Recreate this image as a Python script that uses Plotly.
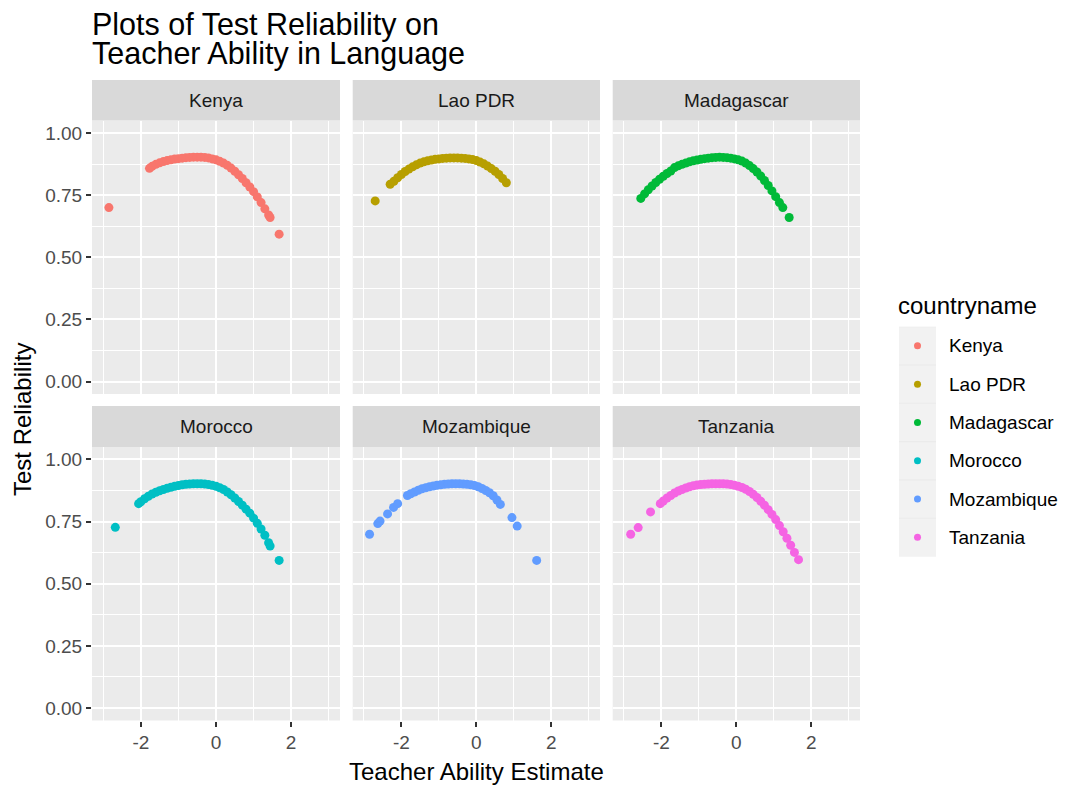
import plotly.graph_objects as go

W, H = 1066, 787
FONT = "Liberation Sans, Arial, sans-serif"

countries = ["Kenya", "Lao PDR", "Madagascar", "Morocco", "Mozambique", "Tanzania"]
colors = ["#F8766D", "#B79F00", "#00BA38", "#00BFC4", "#619CFF", "#F564E3"]

kenya_x = [-2.85, -1.77, -1.70, -1.60, -1.50, -1.40, -1.30, -1.20, -1.10, -1.00, -0.90, -0.80,
           -0.70, -0.60, -0.50, -0.40, -0.30, -0.20, -0.10, 0.00, 0.10, 0.20, 0.30, 0.40, 0.50,
           0.60, 0.70, 0.80, 0.90, 1.00, 1.10, 1.20, 1.30, 1.40, 1.44, 1.68]
kenya_y = [0.700, 0.858, 0.866, 0.874, 0.880, 0.885, 0.889, 0.892, 0.895, 0.897, 0.899, 0.901,
           0.902, 0.903, 0.903, 0.903, 0.902, 0.900, 0.896, 0.892, 0.886, 0.879, 0.870, 0.859, 0.846,
           0.832, 0.817, 0.800, 0.783, 0.764, 0.743, 0.720, 0.695, 0.670, 0.660, 0.593]

lao_x = [-2.70, -2.30, -2.20, -2.10, -2.00, -1.90, -1.80, -1.70, -1.60, -1.50, -1.40, -1.30,
         -1.20, -1.10, -1.00, -0.90, -0.80, -0.70, -0.60, -0.50, -0.40, -0.30, -0.20, -0.10,
         0.00, 0.10, 0.20, 0.30, 0.40, 0.50, 0.60, 0.70, 0.80]
lao_y = [0.727, 0.794, 0.806, 0.820, 0.833, 0.845, 0.855, 0.864, 0.872, 0.879, 0.884, 0.888,
         0.891, 0.894, 0.896, 0.898, 0.899, 0.900, 0.900, 0.900, 0.899, 0.898, 0.896, 0.893,
         0.889, 0.883, 0.876, 0.867, 0.857, 0.846, 0.833, 0.817, 0.800]

madagascar_x = [-2.55, -2.45, -2.35, -2.25, -2.15, -2.05, -1.95, -1.85, -1.75, -1.65, -1.55,
                -1.45, -1.35, -1.25, -1.15, -1.05, -0.95, -0.85, -0.75, -0.65, -0.55, -0.45,
                -0.35, -0.25, -0.15, -0.05, 0.05, 0.15, 0.25, 0.35, 0.45, 0.55, 0.65, 0.75,
                0.85, 0.95, 1.05, 1.15, 1.24, 1.41]
madagascar_y = [0.737, 0.755, 0.772, 0.787, 0.801, 0.814, 0.826, 0.837, 0.847, 0.861, 0.868,
                0.874, 0.879, 0.884, 0.888, 0.891, 0.894, 0.897, 0.899, 0.901, 0.902, 0.903,
                0.902, 0.901, 0.899, 0.896, 0.892, 0.887, 0.879, 0.869, 0.857, 0.843, 0.827, 0.809,
                0.789, 0.767, 0.744, 0.720, 0.700, 0.660]

morocco_x = [-2.68, -2.06, -2.00, -1.90, -1.80, -1.70, -1.60, -1.50, -1.40, -1.30, -1.20, -1.10,
             -1.00, -0.90, -0.80, -0.70, -0.60, -0.50, -0.40, -0.30, -0.20, -0.10, 0.00, 0.10,
             0.20, 0.30, 0.40, 0.50, 0.60, 0.70, 0.80, 0.90, 1.00, 1.10, 1.20, 1.30, 1.40, 1.44, 1.68]
morocco_y = [0.727, 0.822, 0.830, 0.842, 0.852, 0.861, 0.868, 0.874, 0.879, 0.884, 0.888, 0.892,
             0.895, 0.898, 0.900, 0.901, 0.902, 0.902, 0.902, 0.901, 0.899, 0.896, 0.892, 0.886,
             0.879, 0.869, 0.858, 0.845, 0.831, 0.816, 0.800, 0.784, 0.764, 0.743, 0.720, 0.695,
             0.665, 0.652, 0.594]

mozambique_x = [-2.85, -2.63, -2.57, -2.37, -2.21, -2.10, -1.84, -1.75, -1.65, -1.55, -1.45,
                -1.35, -1.25, -1.15, -1.05, -0.95, -0.85, -0.75, -0.65, -0.55, -0.45, -0.35,
                -0.25, -0.15, -0.05, 0.05, 0.15, 0.25, 0.35, 0.45, 0.55, 0.64, 0.95, 1.09, 1.61]
mozambique_y = [0.699, 0.742, 0.752, 0.781, 0.807, 0.822, 0.855, 0.862, 0.869, 0.876, 0.882,
                0.886, 0.890, 0.893, 0.896, 0.898, 0.900, 0.901, 0.902, 0.902, 0.902, 0.901,
                0.900, 0.898, 0.895, 0.890, 0.883, 0.875, 0.866, 0.854, 0.837, 0.819, 0.766,
                0.732, 0.594]

tanzania_x = [-2.82, -2.62, -2.29, -2.03, -1.95, -1.85, -1.75, -1.65, -1.55, -1.45, -1.35,
              -1.25, -1.15, -1.05, -0.95, -0.85, -0.75, -0.65, -0.55, -0.45, -0.35, -0.25,
              -0.15, -0.05, 0.05, 0.15, 0.25, 0.35, 0.45, 0.55, 0.65, 0.75, 0.85, 0.95, 1.05,
              1.15, 1.25, 1.35, 1.45, 1.55, 1.66]
tanzania_y = [0.699, 0.726, 0.789, 0.822, 0.833, 0.845, 0.855, 0.865, 0.873, 0.879, 0.885,
              0.890, 0.894, 0.897, 0.899, 0.900, 0.901, 0.902, 0.902, 0.902, 0.902, 0.901,
              0.899, 0.896, 0.892, 0.887, 0.880, 0.871, 0.860, 0.847, 0.832, 0.816, 0.798,
              0.779, 0.758, 0.734, 0.709, 0.683, 0.655, 0.626, 0.597]

series_x = [kenya_x, lao_x, madagascar_x, morocco_x, mozambique_x, tanzania_x]
series_y = [kenya_y, lao_y, madagascar_y, morocco_y, mozambique_y, tanzania_y]

x_ticks = [-2, 0, 2]
x_tick_labels = ["-2", "0", "2"]
x_minor = [-3, -1, 1, 3]
y_ticks = [0.0, 0.25, 0.5, 0.75, 1.0]
y_tick_labels = ["0.00", "0.25", "0.50", "0.75", "1.00"]
y_minor = [0.125, 0.375, 0.625, 0.875]

title_lines = ["Plots of Test Reliability on", "Teacher Ability in Language"]
x_title = "Teacher Ability Estimate"
y_title = "Test Reliability"
legend_title = "countryname"


def xp(px):
    return px / W


def yp(py):
    return 1 - py / H


col_px = [(92, 340), (352.7, 600), (612.7, 860)]
row_px = [(120.6, 394), (447, 720.5)]
strip_px = [(80, 120.6), (406, 447)]

fig = go.Figure()
layout = {}
shapes = []
annotations = []

for i, name in enumerate(countries):
    r, c = divmod(i, 3)
    sfx = "" if i == 0 else str(i + 1)
    fig.add_trace(go.Scatter(
        x=series_x[i], y=series_y[i], mode="markers",
        marker=dict(color=colors[i], size=9, line=dict(width=0)),
        xaxis="x" + sfx, yaxis="y" + sfx, showlegend=False, name=name,
        hoverinfo="x+y+name",
    ))
    x0, x1 = col_px[c]
    top, bot = row_px[r]
    layout["xaxis" + sfx] = dict(
        domain=[xp(x0), xp(x1)], range=[-3.3, 3.3], anchor="y" + sfx,
        tickmode="array", tickvals=x_ticks, ticktext=x_tick_labels,
        showticklabels=(r == 1), ticks="outside" if r == 1 else "",
        ticklen=5, tickwidth=1.5, tickcolor="#333333",
        tickfont=dict(family=FONT, size=19, color="#4D4D4D"),
        showgrid=True, gridcolor="white", gridwidth=2,
        minor=dict(tickmode="array", tickvals=x_minor, showgrid=True,
                   gridcolor="white", gridwidth=1, ticks=""),
        zeroline=False, showline=False, fixedrange=True,
    )
    layout["yaxis" + sfx] = dict(
        domain=[yp(bot), yp(top)], range=[-0.05, 1.05], anchor="x" + sfx,
        tickmode="array", tickvals=y_ticks, ticktext=y_tick_labels,
        showticklabels=(c == 0), ticks="outside" if c == 0 else "",
        ticklen=5, tickwidth=1.5, tickcolor="#333333",
        tickfont=dict(family=FONT, size=19, color="#4D4D4D"),
        showgrid=True, gridcolor="white", gridwidth=2,
        minor=dict(tickmode="array", tickvals=y_minor, showgrid=True,
                   gridcolor="white", gridwidth=1, ticks=""),
        zeroline=False, showline=False, fixedrange=True,
    )
    s0, s1 = strip_px[r]
    shapes.append(dict(type="rect", xref="paper", yref="paper",
                       x0=xp(x0), x1=xp(x1), y0=yp(s1), y1=yp(s0),
                       fillcolor="#D9D9D9", line=dict(width=0), layer="below"))
    annotations.append(dict(text=name, xref="paper", yref="paper",
                            x=xp((x0 + x1) / 2), y=yp((s0 + s1) / 2),
                            xanchor="center", yanchor="middle", showarrow=False,
                            font=dict(family=FONT, size=19, color="#1A1A1A")))

# legend built on its own small axis
legend_idx = list(range(len(countries)))
layout["xaxis7"] = dict(domain=[xp(899), xp(936)], range=[0, 1], anchor="y7",
                        visible=False, fixedrange=True)
layout["yaxis7"] = dict(domain=[yp(556.5), yp(326.7)], range=[len(countries) - 0.5, -0.5],
                        anchor="x7", visible=False, fixedrange=True)
for i, name in enumerate(countries):
    shapes.append(dict(type="rect", xref="x7", yref="y7", x0=0, x1=1,
                       y0=legend_idx[i] - 0.485, y1=legend_idx[i] + 0.485,
                       fillcolor="#F2F2F2", line=dict(width=0), layer="below"))
    annotations.append(dict(text=name, xref="paper", yref="y7", x=xp(947), y=legend_idx[i],
                            xanchor="left", yanchor="middle", showarrow=False,
                            font=dict(family=FONT, size=19, color="#000000")))
fig.add_trace(go.Scatter(
    x=[0.5] * len(countries), y=legend_idx, mode="markers",
    marker=dict(color=colors, size=7, line=dict(width=0)),
    xaxis="x7", yaxis="y7", showlegend=False, hoverinfo="skip",
))
annotations.append(dict(text=legend_title, xref="paper", yref="paper", x=xp(896), y=yp(305),
                        xanchor="left", yanchor="middle", showarrow=False,
                        font=dict(family=FONT, size=24, color="#000000")))

# titles
annotations.append(dict(text=title_lines[0], xref="paper", yref="paper", x=xp(90), y=yp(25),
                        xanchor="left", yanchor="middle", showarrow=False,
                        font=dict(family=FONT, size=30.5, color="#000000")))
annotations.append(dict(text=title_lines[1], xref="paper", yref="paper", x=xp(90), y=yp(54),
                        xanchor="left", yanchor="middle", showarrow=False,
                        font=dict(family=FONT, size=30.5, color="#000000")))
annotations.append(dict(text=x_title, xref="paper", yref="paper", x=xp(476), y=yp(771),
                        xanchor="center", yanchor="middle", showarrow=False,
                        font=dict(family=FONT, size=24, color="#000000")))
annotations.append(dict(text=y_title, xref="paper", yref="paper", x=xp(22), y=yp(420),
                        xanchor="center", yanchor="middle", showarrow=False, textangle=-90,
                        font=dict(family=FONT, size=24, color="#000000")))

fig.update_layout(
    width=W, height=H, autosize=False,
    margin=dict(l=0, r=0, t=0, b=0),
    paper_bgcolor="white", plot_bgcolor="#EBEBEB",
    showlegend=False, shapes=shapes, annotations=annotations,
    font=dict(family=FONT),
    **layout,
)

fig.write_html(
    "out.html",
    config={"displayModeBar": False},
    post_script="document.body.style.margin='0';document.body.style.overflow='hidden';",
)
